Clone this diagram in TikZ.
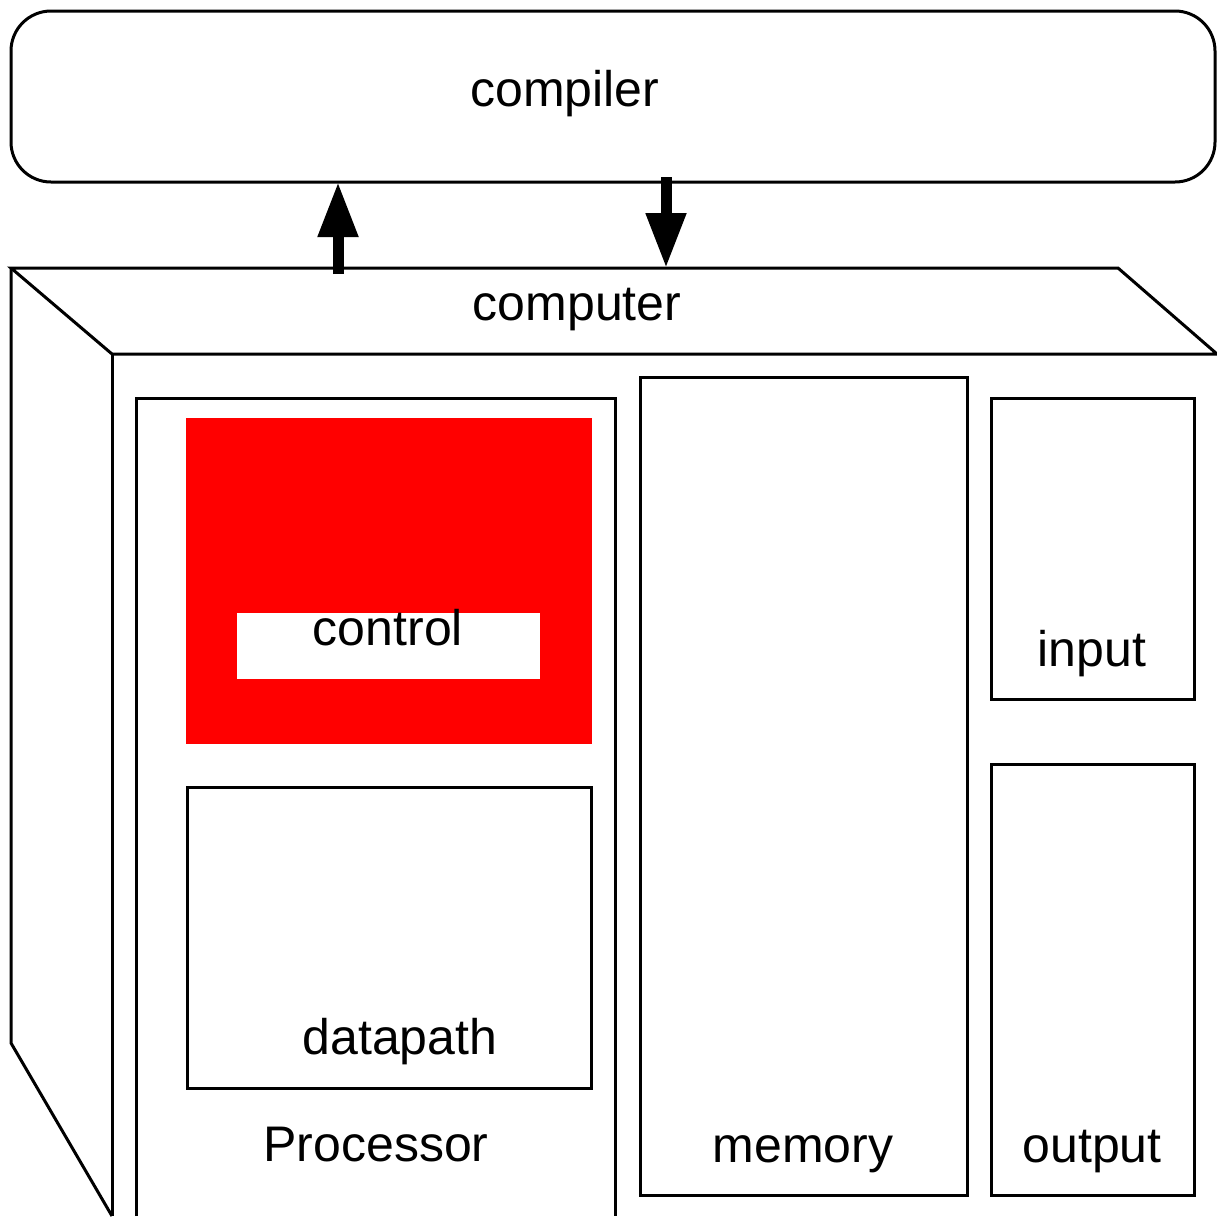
\documentclass[tikz,border=0pt]{standalone}
\usepackage{fontspec}
\setmainfont{Liberation Sans}
\usetikzlibrary{arrows.meta}
\tikzset{
  outline/.style={draw=black, line width=3pt},
  box/.style={outline, fill=white, inner sep=0pt, outer sep=0pt},
  caption/.style={anchor=base, inner sep=0pt, font=\fontsize{50}{60}\selectfont},
  flow/.style={line width=11pt, -{Triangle[width=38pt, length=55pt]}},
}
\begin{document}
\begin{tikzpicture}[x=1pt, y=-1pt]
\useasboundingbox (0,0) rectangle (1217,1216);

% compiler
\node[box, rounded corners=40pt, minimum width=1204pt, minimum height=171pt] (compiler) at (613,96.5) {};
\node[caption] (compilerlbl) at (565,106) {compiler};

% computer cabinet
\coordinate (tl) at (11,268);
\coordinate (tr) at (1118,268);
\coordinate (fl) at (112,354);
\coordinate (fr) at (1217,354);
\draw[outline, line join=miter] (fl) -- (tl) -- (tr) -- (fr) -- (fl);
\draw[outline] (tl) -- (11,1043) -- (112,1216);
\draw[outline] (fl) -- (112,1216);
\node[caption] (computerlbl) at (577,320) {computer};

% arrows between compiler and computer
\coordinate (upfoot) at (338,274);
\coordinate (downfoot) at (666,268);
\draw[flow] (upfoot) -- (upfoot |- compiler.south);
\draw[flow] ([yshift=5pt]downfoot |- compiler.south) -- (downfoot);

% processor
\draw[outline] (136,1216) -- (136,398) -- (615,398) -- (615,1216);
\coordinate (processor) at (375,398);
\node[caption] (processorlbl) at (376,1161) {Processor};

% control unit
\node[fill=red, inner sep=0pt, minimum width=406pt, minimum height=326pt] (control) at (389,581) {};
\node[fill=white, inner sep=0pt, minimum width=303pt, minimum height=66pt] (controlwin) at (388.5,646) {};
\node[caption] (controllbl) at (388,645) {control};

% datapath
\node[box, minimum width=404pt, minimum height=301pt] (datapath) at (389,937.5) {};
\node[caption] (datapathlbl) at (400,1054) {datapath};

% memory
\node[box, minimum width=327pt, minimum height=818pt] (memory) at (803.5,786) {};
\node[caption] (memorylbl) at (803,1162) {memory};

% input / output
\node[box, minimum width=203pt, minimum height=301pt] (input) at (1092.5,548.5) {};
\node[caption] (inputlbl) at (1092,666) {input};
\node[box, minimum width=203pt, minimum height=431pt] (output) at (1092.5,979.5) {};
\node[caption] (outputlbl) at (1092,1162) {output};
\end{tikzpicture}
\end{document}
